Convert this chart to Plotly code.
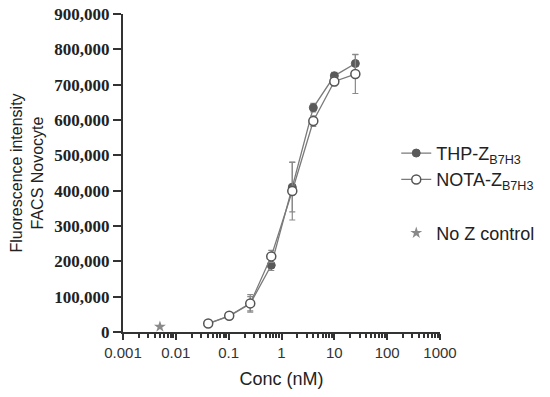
import plotly.graph_objects as go

conc = [0.041, 0.1024, 0.256, 0.64, 1.6, 4.0, 10.0, 25.0]
thp_vals = [24000, 45000, 80000, 189000, 410000, 635000, 725000, 760000]
thp_err = [4000, 6000, 20000, 15000, 70000, 12000, 10000, 26000]
nota_vals = [24000, 46000, 81000, 214000, 399000, 597000, 709000, 730000]
nota_err = [4000, 6000, 25000, 17000, 82000, 15000, 12000, 55000]
ctrl_conc = [0.005]
ctrl_vals = [15000]

x_ticks = [0.001, 0.01, 0.1, 1, 10, 100, 1000]
x_ticktext = ["0.001", "0.01", "0.1", "1", "10", "100", "1000"]
y_ticks = [0, 100000, 200000, 300000, 400000, 500000, 600000, 700000, 800000, 900000]

minor_vals = [m * d for d in x_ticks[:-1] for m in range(2, 10)]

fig = go.Figure()
fig.add_trace(go.Scatter(
    x=conc, y=thp_vals, mode="lines+markers", name="THP-Z<sub>B7H3</sub>",
    legendgroup="a",
    line=dict(color="#7a7a7a", width=1.3),
    marker=dict(symbol="circle", size=8, color="#5a5a5a", line=dict(color="#5a5a5a", width=1)),
    error_y=dict(type="data", array=thp_err, color="#8a8a8a", thickness=1.2, width=3),
))
fig.add_trace(go.Scatter(
    x=conc, y=nota_vals, mode="lines+markers", name="NOTA-Z<sub>B7H3</sub>",
    legendgroup="a",
    line=dict(color="#7a7a7a", width=1.3),
    marker=dict(symbol="circle", size=9, color="white", line=dict(color="#555555", width=1.5)),
    error_y=dict(type="data", array=nota_err, color="#8a8a8a", thickness=1.2, width=3),
))
fig.add_trace(go.Scatter(
    x=ctrl_conc, y=ctrl_vals, mode="markers", name="No Z control",
    legendgroup="b",
    marker=dict(symbol="star", size=9, color="#8a8a8a"),
))

fig.update_layout(
    width=550, height=397,
    margin=dict(l=115, r=118, t=6, b=73),
    paper_bgcolor="white", plot_bgcolor="white",
    font=dict(family="Liberation Sans, Arial, sans-serif", color="#222222"),
    showlegend=True,
    legend=dict(x=0.862, y=0.62, xanchor="left", yanchor="top",
                font=dict(size=18, color="#222222"), tracegroupgap=27,
                bgcolor="rgba(0,0,0,0)", itemwidth=30),
    xaxis=dict(
        type="log", range=[-3, 3], automargin=False,
        tickvals=x_ticks, ticktext=x_ticktext,
        ticks="outside", ticklen=6, tickwidth=2, tickcolor="#333333",
        showline=True, linewidth=2, linecolor="#333333",
        showgrid=False, zeroline=False,
        tickfont=dict(size=15, family="Liberation Sans, Arial, sans-serif", color="#333333"),
        minor=dict(tickmode="array", tickvals=minor_vals, ticks="outside", ticklen=4,
                   tickwidth=1.5, tickcolor="#333333", showgrid=False),
        title=dict(text="Conc (nM)", font=dict(size=18, color="#222222"), standoff=12),
    ),
    yaxis=dict(
        range=[0, 900000], tickvals=y_ticks, tickformat=",", automargin=False,
        ticklabeloverflow="allow",
        ticks="outside", ticklen=8, tickwidth=2, tickcolor="#333333",
        showline=True, linewidth=2, linecolor="#333333",
        showgrid=False, zeroline=False,
        tickfont=dict(size=17, family="Liberation Serif, Times New Roman, serif", weight="bold", color="#222222"),
        title=dict(text="Fluorescence intensity<br>FACS Novocyte", font=dict(size=16, color="#222222"), standoff=22),
    ),
)

fig.write_html("out.html")
